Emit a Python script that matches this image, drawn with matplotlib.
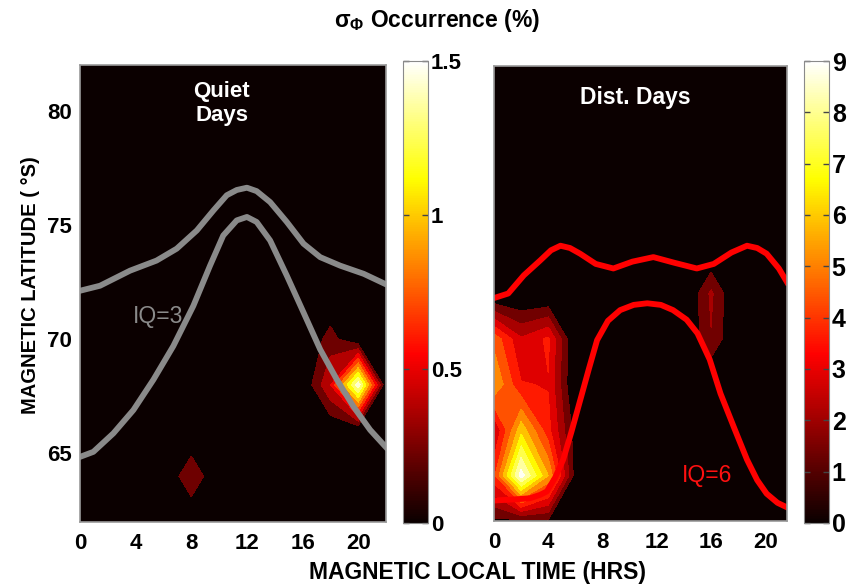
"""
Sigma-phi occurrence maps for quiet and disturbed days, MLT vs magnetic latitude.
"""

import numpy as np
import matplotlib
matplotlib.use("Agg")
import matplotlib.pyplot as plt
from matplotlib.colors import Normalize
from matplotlib.cm import ScalarMappable

plt.rcParams["font.family"] = ["Liberation Sans", "DejaVu Sans"]

# grid used for the occurrence maps
mlt_grid = [0, 2, 4, 6, 8, 10, 12, 14, 16, 18, 20, 22]
lat_grid = [62, 64, 66, 68, 70, 72, 74, 76, 78, 80, 82]

# non-zero cells (MLT, latitude, occurrence %)
quiet_mlt = [8, 18, 18, 20]
quiet_lat = [64, 68, 70, 68]
quiet_val = [0.27, 0.45, 0.21, 1.45]

dist_mlt = [0, 0, 0, 0, 0, 2, 2, 2, 2, 2, 4, 4, 4, 4, 4, 6, 6, 16, 16]
dist_lat = [62, 64, 66, 68, 70, 62, 64, 66, 68, 70, 62, 64, 66, 68, 70, 64, 66, 70, 72]
dist_val = [0.8, 3.8, 2.4, 5.5, 4.5, 0.8, 8.9, 6.0, 3.3, 2.6, 0.9, 5.5, 3.5, 3.2, 3.4,
            0.6, 0.6, 1.7, 1.9]

# IQ=3 oval boundaries (quiet days)
iq3_pole_mlt = [0, 1.44, 3.6, 5.5, 6.95, 8.4, 9.6, 10.55, 11.27, 12.0, 12.7, 13.67,
                14.87, 16.07, 17.27, 18.7, 20.4, 22]
iq3_pole = [72.12, 72.34, 73.0, 73.44, 73.96, 74.76, 75.64, 76.3, 76.53, 76.63, 76.48,
            76.0, 75.13, 74.18, 73.59, 73.22, 72.86, 72.4]
iq3_eq_mlt = [0, 0.96, 2.4, 3.84, 5.28, 6.71, 8.15, 9.35, 10.3, 11.27, 12.0, 12.7,
              13.67, 14.87, 16.07, 17.27, 18.47, 19.66, 20.86, 22]
iq3_eq = [64.85, 65.07, 65.88, 66.9, 68.23, 69.7, 71.46, 73.22, 74.54, 75.2, 75.35,
          75.13, 74.32, 72.78, 71.17, 69.55, 68.23, 67.05, 66.03, 65.27]

# IQ=6 oval boundaries (disturbed days)
iq6_pole_mlt = [0, 1.05, 2.2, 3.4, 4.2, 4.9, 5.6, 6.35, 7.5, 8.8, 10.2, 11.75, 13.3,
                14.95, 16.2, 17.5, 18.65, 19.4, 20.1, 21.0, 21.6]
iq6_pole = [71.8, 72.0, 72.8, 73.45, 73.9, 74.1, 74.0, 73.75, 73.3, 73.1, 73.4, 73.6,
            73.35, 73.1, 73.3, 73.8, 74.1, 74.0, 73.75, 73.1, 72.5]
iq6_eq_mlt = [0, 1.5, 2.65, 3.4, 3.9, 4.5, 5.1, 5.7, 6.35, 7.0, 7.6, 8.4, 9.3, 10.3,
              11.3, 12.3, 13.2, 14.2, 15.0, 15.9, 16.7, 17.7, 18.65, 19.4, 20.1, 20.9, 21.6]
iq6_eq = [62.9, 62.95, 63.0, 63.15, 63.3, 63.9, 64.7, 65.9, 67.3, 68.7, 69.95, 70.8,
          71.27, 71.5, 71.57, 71.5, 71.27, 70.85, 70.25, 69.1, 67.6, 66.1, 64.7, 63.8,
          63.2, 62.8, 62.6]

quiet_levels = [0.15, 0.3, 0.45, 0.6, 0.75, 0.9, 1.05, 1.2, 1.35, 1.5]
dist_levels = [1.0, 1.75, 2.5, 3.25, 4.0, 4.75, 5.5, 6.25, 7.0, 7.75, 8.5, 9.25]


def to_grid(mlts, lats, vals):
    z = np.zeros((len(lat_grid), len(mlt_grid)))
    for m, la, v in zip(mlts, lats, vals):
        z[lat_grid.index(la), mlt_grid.index(m)] = v
    return z


cmap = plt.get_cmap("hot")
W, H = 847, 588
fig = plt.figure(figsize=(W / 100, H / 100), dpi=100)


def px(left, top, right, bottom):
    return [left / W, 1 - bottom / H, (right - left) / W, (bottom - top) / H]


ax1 = fig.add_axes(px(80, 65, 386, 522))
cax1 = fig.add_axes(px(403, 61, 428, 523))
ax2 = fig.add_axes(px(494, 66, 787, 521))
cax2 = fig.add_axes(px(804, 61, 829, 523))

panels = [
    (ax1, cax1, to_grid(quiet_mlt, quiet_lat, quiet_val), quiet_levels, 1.5, 22, 16),
    (ax2, cax2, to_grid(dist_mlt, dist_lat, dist_val), dist_levels, 9, 21.6, 18),
]
for ax, cax, z, levels, vmax, xmax, cbsize in panels:
    ax.set_facecolor(cmap(0.0))
    ax.contourf(mlt_grid, lat_grid, z, levels=levels, cmap=cmap, vmin=0, vmax=vmax)
    ax.set_xlim(0, xmax)
    ax.set_ylim(62, 82)
    ax.set_xticks([0, 4, 8, 12, 16, 20])
    ax.tick_params(length=0, labelsize=16, pad=8)
    for lab in ax.get_xticklabels():
        lab.set_fontweight("bold")
    for s in ax.spines.values():
        s.set_color("#9a9a9a")
        s.set_linewidth(1.2)

    cb = fig.colorbar(ScalarMappable(Normalize(0, vmax), cmap), cax=cax)
    cb.outline.set_edgecolor("#8a8a8a")
    cax.tick_params(direction="in", length=4, width=1, color="#444444",
                    left=True, right=True, labelsize=cbsize, pad=2)
    for lab in cax.get_yticklabels():
        lab.set_fontweight("bold")

ax1.set_yticks([65, 70, 75, 80])
ax1.tick_params(axis="y", pad=6)
for lab in ax1.get_yticklabels():
    lab.set_fontweight("bold")
ax2.set_yticks([])

cax1.set_yticks([0, 0.5, 1, 1.5])
cax1.set_yticklabels(["0", "0.5", "1", "1.5"])
for lab in cax1.get_yticklabels():
    lab.set_fontweight("bold")
cax2.set_yticks(range(10))

# oval boundaries
ax1.plot(iq3_pole_mlt, iq3_pole, color="#8a8a8a", lw=4.2, solid_joinstyle="round")
ax1.plot(iq3_eq_mlt, iq3_eq, color="#8a8a8a", lw=4.2, solid_joinstyle="round")
ax2.plot(iq6_pole_mlt, iq6_pole, color="#ff0000", lw=4.2, solid_joinstyle="round")
ax2.plot(iq6_eq_mlt, iq6_eq, color="#ff0000", lw=4.2, solid_joinstyle="round")

ax1.text(5.6, 71.0, "IQ=3", color="#8a8a8a", fontsize=16.5, ha="center", va="center")
ax2.text(15.7, 64.0, "IQ=6", color="#ff1010", fontsize=16.5, ha="center", va="center")
ax1.text(10.2, 80.3, "Quiet\nDays", color="white", fontsize=16, fontweight="bold",
         ha="center", va="center", linespacing=1.2)
ax2.text(10.4, 80.6, "Dist. Days", color="white", fontsize=16.5, fontweight="bold",
         ha="center", va="center")

fig.text(437 / W, 1 - 20 / H, r"$\mathregular{\sigma_{\Phi}}$ Occurrence (%)",
         fontsize=16.5, fontweight="bold", ha="center", va="center")
fig.text(477 / W, 1 - 573 / H, "MAGNETIC LOCAL TIME (HRS)", fontsize=16.5,
         fontweight="bold", ha="center", va="center")
fig.text(30 / W, 1 - 285 / H, "MAGNETIC LATITUDE ( \u00b0S)", fontsize=14.5,
         fontweight="bold", ha="center", va="center", rotation=90)

fig.savefig("out.png", dpi=100)
